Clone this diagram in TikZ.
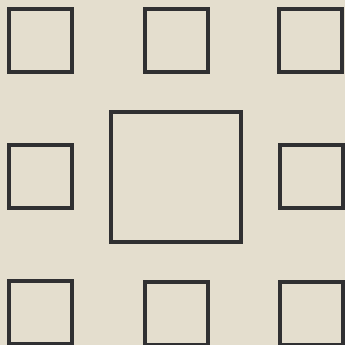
\documentclass[tikz,border=0pt]{standalone}
\usepackage{tikz}
\usetikzlibrary{positioning}
\definecolor{paper}{RGB}{228,222,206}
\definecolor{ink}{RGB}{48,48,50}

\begin{document}
\begin{tikzpicture}[x=1pt,y=1pt,
  box/.style={draw=ink,line width=4pt,minimum size=63pt,inner sep=0pt,outer sep=0pt},
  bigbox/.style={box,minimum size=130pt}]
 \fill[paper] (0,0) rectangle (345,345);
 \useasboundingbox (0,0) rectangle (345,345);
 \begin{scope}
 \clip (0,0) rectangle (345,345);
 % top row
 \node[box] (tl) at (40.5,304.5) {};
 \node[box] (tm) at (176.5,304.5) {};
 \node[box] (tr) at (310.5,304.5) {};
 % middle row
 \node[box] (ml) at (40.5,168) {};
 \node[bigbox] (c) at (176,168) {};
 \node[box] (mr) at (311,168) {};
 % bottom row
 \node[box] (bl) at (40,32) {};
 \node[box] (bm) at (176,31) {};
 \node[box] (br) at (311.5,31) {};
 \end{scope}
\end{tikzpicture}
\end{document}
